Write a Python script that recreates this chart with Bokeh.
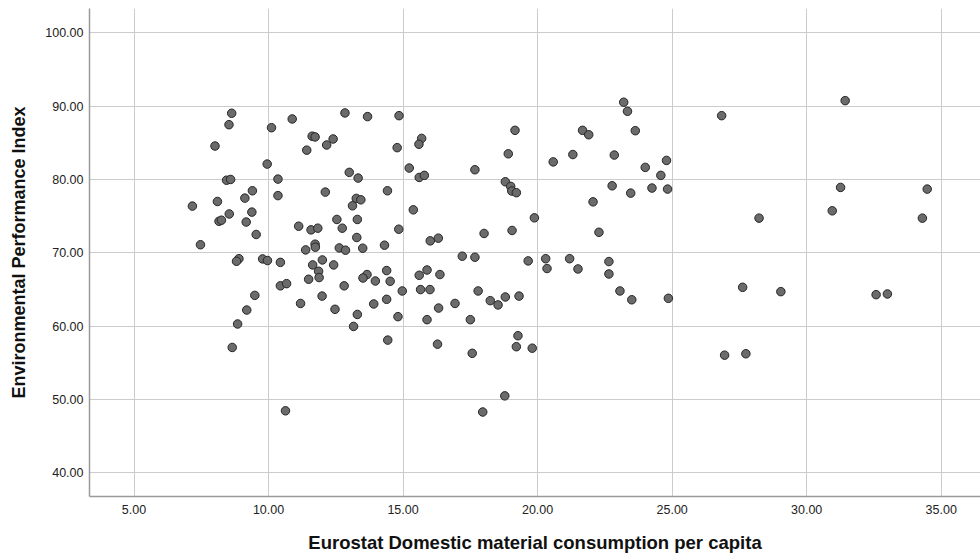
from bokeh.plotting import figure
from bokeh.embed import file_html
from bokeh.resources import INLINE
from bokeh.models import FixedTicker, PrintfTickFormatter, Range1d, ColumnDataSource

# Eurostat Domestic material consumption per capita
dmc = [
    8.63, 8.53, 10.11, 8.01, 9.95, 8.44, 8.59, 10.35, 9.40, 10.35,
    9.12, 8.10, 7.17, 8.54, 9.38, 8.16, 8.25, 9.17, 9.54, 7.47,
    8.90, 8.81, 9.78, 9.96, 10.44, 10.44, 10.67, 9.49, 9.19, 8.85,
    8.65, 10.63,
    10.88, 12.84, 13.68, 14.85, 11.62, 11.73, 12.40, 11.42, 12.16, 14.78,
    15.69, 15.59, 15.23, 17.67, 13.00, 13.33, 15.60, 15.79, 12.11, 14.42,
    13.26, 13.43, 13.12, 15.38, 12.54, 13.30, 11.12, 11.58, 11.83, 12.74,
    14.84, 13.28, 16.01, 16.31, 11.73, 11.74, 11.38, 12.63, 12.86, 13.50,
    14.31, 17.20, 17.67, 11.64, 12.00, 12.42, 11.86, 11.88, 11.49, 13.66,
    13.51, 14.39, 13.97, 14.52, 15.60, 15.89, 16.37, 12.81,
    14.97, 15.65, 16.00, 17.79, 11.19, 11.99, 12.47, 13.91, 14.39, 13.30,
    13.16, 14.81, 15.89, 16.32, 16.93, 17.50, 14.43, 16.28, 17.57, 17.96,
    23.20, 23.34, 19.16, 21.67, 21.90, 23.63, 18.91, 20.58, 21.31, 22.85,
    24.79, 24.00, 24.58, 18.80, 19.00, 19.04, 19.21, 22.77, 23.46, 24.25,
    24.83, 22.06, 19.88, 22.28, 18.01, 19.05, 19.65, 20.30, 20.35, 21.19,
    21.50, 22.65, 22.65,
    18.24, 18.53, 18.80, 19.31, 23.06, 23.50, 24.86, 19.27, 19.21, 19.80,
    18.78,
    31.43, 26.84, 31.26, 34.48, 28.23, 30.95, 34.30, 27.62, 29.04, 32.58,
    33.00, 26.95, 27.74,
]

# Environmental Performance Index
epi = [
    89.03, 87.47, 87.06, 84.56, 82.10, 79.90, 80.00, 80.05, 78.46, 77.80,
    77.46, 77.00, 76.37, 75.30, 75.55, 74.30, 74.45, 74.20, 72.50, 71.10,
    69.20, 68.85, 69.17, 68.95, 68.70, 65.50, 65.80, 64.20, 62.20, 60.30,
    57.10, 48.46,
    88.25, 89.07, 88.57, 88.70, 85.90, 85.80, 85.52, 84.00, 84.70, 84.34,
    85.60, 84.80, 81.56, 81.33, 80.97, 80.19, 80.28, 80.56, 78.28, 78.46,
    77.42, 77.23, 76.41, 75.86, 74.55, 74.55, 73.63, 73.13, 73.36, 73.36,
    73.22, 72.09, 71.63, 72.00, 71.18, 70.77, 70.40, 70.67, 70.36, 70.63,
    71.04, 69.54, 69.40, 68.35, 69.03, 68.35, 67.49, 66.63, 66.40, 67.04,
    66.57, 67.58, 66.16, 66.12, 66.94, 67.66, 67.04, 65.50,
    64.80, 64.99, 64.99, 64.80, 63.10, 64.10, 62.30, 63.03, 63.66, 61.60,
    59.97, 61.30, 60.89, 62.47, 63.10, 60.89, 58.10, 57.55, 56.30, 48.30,
    90.53, 89.30, 86.70, 86.70, 86.10, 86.65, 83.50, 82.40, 83.40, 83.33,
    82.60, 81.65, 80.56, 79.69, 79.06, 78.42, 78.20, 79.14, 78.14, 78.83,
    78.69, 76.95, 74.77, 72.80, 72.64, 73.05, 68.90, 69.20, 67.86, 69.20,
    67.80, 68.81, 67.12,
    63.48, 62.90, 63.98, 64.10, 64.80, 63.60, 63.80, 58.70, 57.20, 57.00,
    50.50,
    90.75, 88.70, 78.92, 78.69, 74.73, 75.73, 74.73, 65.30, 64.71, 64.30,
    64.39, 56.05, 56.24,
]

x_ticks = [5, 10, 15, 20, 25, 30, 35]
y_ticks = [40, 50, 60, 70, 80, 90, 100]

x_title = "Eurostat Domestic material consumption per capita"
y_title = "Environmental Performance Index"

src = ColumnDataSource(data=dict(x=dmc, y=epi))

p = figure(
    width=980, height=555,
    output_backend="svg", toolbar_location=None,
    x_range=Range1d(3.346, 36.46), y_range=Range1d(36.78, 103.31),
    min_border_left=89, min_border_right=0, min_border_top=8, min_border_bottom=58,
)
p.outline_line_color = None
p.background_fill_color = "white"
p.border_fill_color = "white"

p.grid.grid_line_color = "#cccccc"
p.grid.grid_line_width = 1

p.xaxis.ticker = FixedTicker(ticks=x_ticks)
p.yaxis.ticker = FixedTicker(ticks=y_ticks)
p.xgrid.ticker = FixedTicker(ticks=x_ticks)
p.ygrid.ticker = FixedTicker(ticks=y_ticks)
p.xaxis.formatter = PrintfTickFormatter(format="%.2f")
p.yaxis.formatter = PrintfTickFormatter(format="%.2f")

for ax in (p.xaxis[0], p.yaxis[0]):
    ax.axis_line_color = "#9a9a9a"
    ax.axis_line_width = 1.5
    ax.major_tick_in = 0
    ax.major_tick_out = 0
    ax.minor_tick_in = 0
    ax.minor_tick_out = 0
    ax.major_label_text_font = "Liberation Sans"
    ax.major_label_text_font_size = "12.5px"
    ax.major_label_text_color = "#222222"
    ax.axis_label_text_font = "Liberation Sans"
    ax.axis_label_text_font_style = "bold"
    ax.axis_label_text_color = "#111111"

p.xaxis.axis_label_text_font_size = "18.5px"
p.yaxis.axis_label_text_font_size = "18px"
p.xaxis.axis_label = x_title
p.yaxis.axis_label = y_title
p.xaxis.major_label_standoff = 8
p.yaxis.major_label_standoff = 6
p.xaxis.axis_label_standoff = 15
p.yaxis.axis_label_standoff = 13

p.scatter("x", "y", source=src, size=8.5, fill_color="#6b6b6b",
          line_color="#262626", line_width=1)

open("out.html", "w").write(file_html(p, INLINE))
